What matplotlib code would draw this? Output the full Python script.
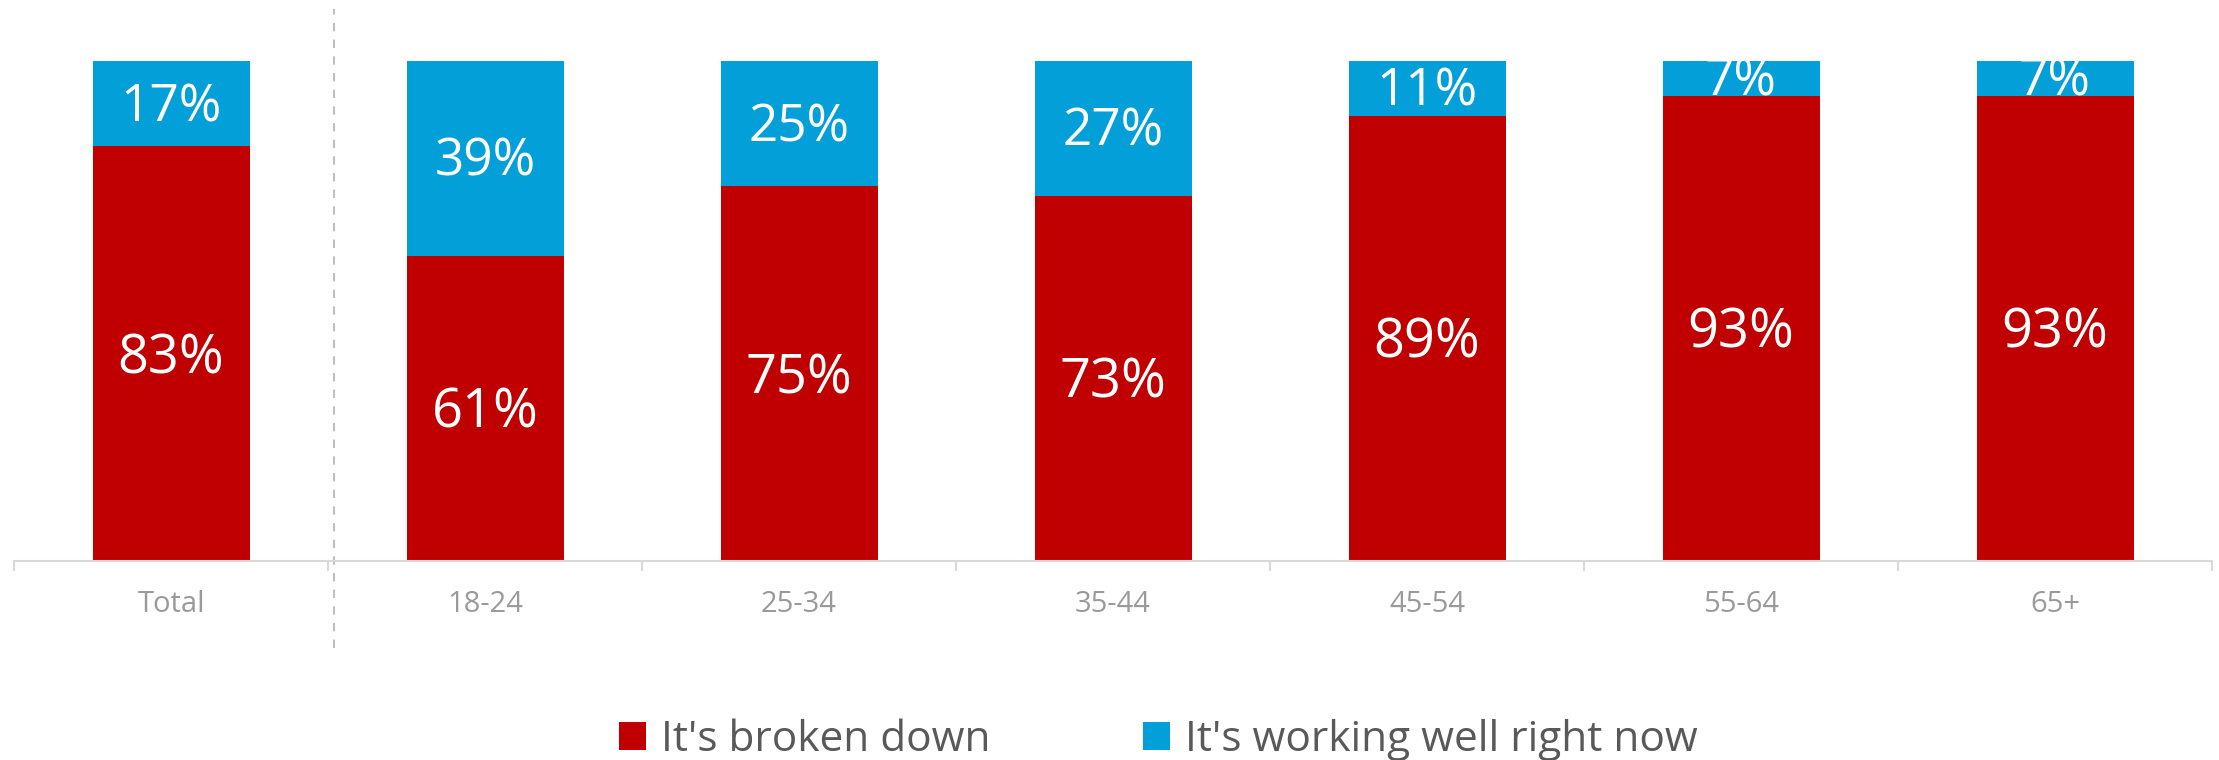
import numpy as np
import matplotlib.pyplot as plt
from matplotlib.patches import Patch

# data
groups = ["Total", "18-24", "25-34", "35-44", "45-54", "55-64", "65+"]
broken = [83, 61, 75, 73, 89, 93, 93]
working = [17, 39, 25, 27, 11, 7, 7]
series_names = ["It's broken down", "It's working well right now"]

red = "#C00000"
blue = "#039FD9"

plt.rcParams['font.family'] = ['Open Sans', 'DejaVu Sans']

fig = plt.figure(figsize=(22.19, 7.6), dpi=100)
ax = fig.add_axes([14 / 2219, 1 - 561 / 760, 2198 / 2219, 500 / 760])

x = np.arange(len(groups))
w = 0.5
ax.bar(x, broken, w, color=red, zorder=2)
ax.bar(x, working, w, bottom=broken, color=blue, zorder=2)

# value labels in the middle of each segment
for i in range(len(groups)):
    ax.text(x[i], broken[i] / 2 - 1, f"{broken[i]}%", ha='center', va='center',
            color='white', fontsize=39)
    ax.text(x[i], broken[i] + working[i] / 2 - 0.8, f"{working[i]}%", ha='center',
            va='center', color='white', fontsize=37)

ax.set_xlim(-0.5, len(groups) - 0.5)
ax.set_ylim(0, 100)
ax.set_yticks([])
for s in ['left', 'right', 'top']:
    ax.spines[s].set_visible(False)
ax.spines['bottom'].set_color('#D9D9D9')
ax.spines['bottom'].set_linewidth(1.5)

ax.set_xticks(x)
ax.set_xticklabels(groups, fontsize=21, color='#9A9A9A')
ax.tick_params(axis='x', which='major', length=0, pad=21)
ax.set_xticks(np.arange(-0.5, len(groups)), minor=True)
ax.tick_params(axis='x', which='minor', length=7, width=1.5, color='#D9D9D9')

# dashed separator between Total and age groups
ax.axvline(0.52, ymin=-0.174, ymax=1.104, color='#BFBFBF', lw=1.5,
           ls=(0, (4, 4)), clip_on=False, zorder=1)

handles = [Patch(facecolor=red), Patch(facecolor=blue)]
fig.legend(handles, series_names, loc='center', bbox_to_anchor=(1158 / 2219, 1 - 740 / 760),
           ncol=2, frameon=False, fontsize=30.5, labelcolor='#595959',
           handlelength=0.64, handleheight=0.64, handletextpad=0.35,
           columnspacing=3.6)

fig.savefig("out.png", dpi=100)
